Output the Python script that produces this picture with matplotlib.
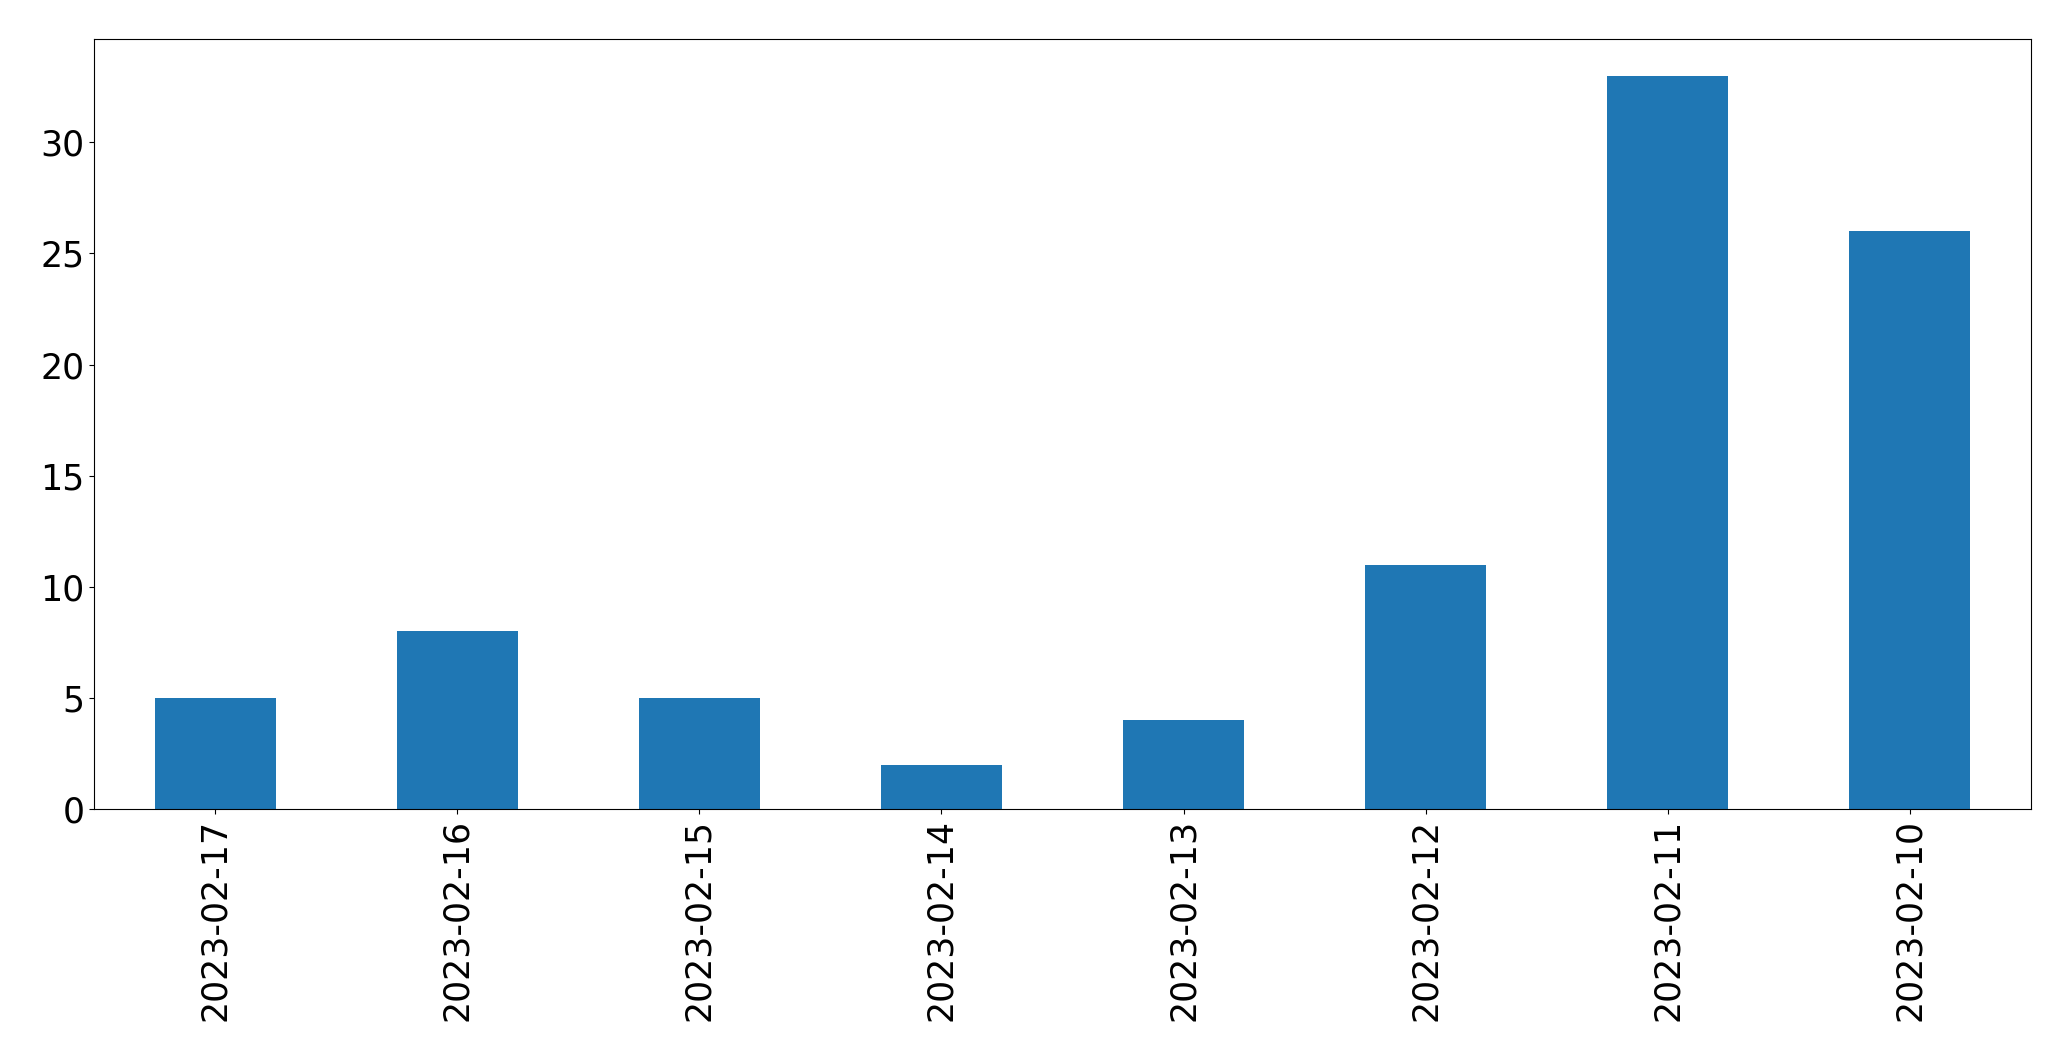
import matplotlib
matplotlib.use("Agg")
import matplotlib.pyplot as plt

dates = ["2023-02-17", "2023-02-16", "2023-02-15", "2023-02-14",
         "2023-02-13", "2023-02-12", "2023-02-11", "2023-02-10"]
counts = [5, 8, 5, 2, 4, 11, 33, 26]

W, H = 2071, 1061
fig = plt.figure(figsize=(W / 100, H / 100), dpi=100)
ax = fig.add_axes([94 / W, 1 - 809 / H, (2031 - 94) / W, (809 - 39) / H])

x = range(len(dates))
ax.bar(x, counts, width=0.5, color="#1f77b4")
ax.set_xlim(-0.5, len(dates) - 0.5)
ax.set_xticks(list(x))
ax.set_xticklabels(dates, rotation=90)
ax.set_yticks([0, 5, 10, 15, 20, 25, 30])
ax.tick_params(labelsize=25)

fig.savefig("out.png", dpi=100)
